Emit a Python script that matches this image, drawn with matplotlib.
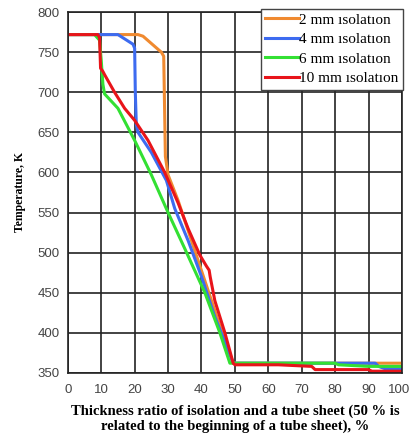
import matplotlib.pyplot as plt
import matplotlib.transforms as mtransforms

# 2 mm isolation
x_2mm = [0, 21, 22.5, 28, 28.7, 29.2, 30, 33, 37, 41, 45, 49.5, 50, 60, 80, 100]
t_2mm = [772, 772, 770, 750, 745, 620, 597, 565, 515, 465, 415, 362, 362, 362, 362, 362]

# 4 mm isolation
x_4mm = [0, 15, 16.5, 19.5, 20, 20.2, 20.5, 21, 25, 29.5, 32, 36, 40, 44, 48, 49.5, 60, 80, 92, 93, 95, 100]
t_4mm = [772, 772, 768, 760, 755, 700, 660, 650, 625, 590, 555, 515, 470, 420, 378, 362, 362, 362, 362, 358, 355, 355]

# 6 mm isolation
x_6mm = [0, 8, 9.5, 10, 10.5, 11, 15, 20, 25, 30, 35, 41, 45.5, 48.5, 60, 80, 81, 90, 100]
t_6mm = [772, 772, 765, 740, 710, 698, 680, 640, 597, 550, 505, 450, 400, 362, 362, 362, 360, 358, 358]

# 10 mm isolation
x_10mm = [0, 9, 9.5, 9.8, 10.5, 11, 14, 17, 20, 24, 29, 33, 36, 39.5, 41.5, 42.3, 42.6, 44, 47, 49.5, 50, 63, 73, 74, 90, 91, 100]
t_10mm = [772, 772, 768, 730, 726, 722, 700, 680, 665, 640, 600, 562, 530, 497, 483, 478, 470, 440, 400, 362, 360, 360, 358, 354, 354, 352, 352]

series = [
    (x_2mm, t_2mm, '#F08A30', '2 mm ısolatıon'),
    (x_4mm, t_4mm, '#3D6BF0', '4 mm ısolatıon'),
    (x_6mm, t_6mm, '#33E033', '6 mm ısolatıon'),
    (x_10mm, t_10mm, '#E8141A', '10 mm ısolatıon'),
]

fig = plt.figure(figsize=(4.11, 4.34), dpi=100)
ax = fig.add_axes([0.165, 0.141, 0.813, 0.831])

for xs, ts, color, label in series:
    ax.plot(xs, ts, color=color, lw=2.2, label=label)

ax.set_xlim(0, 100)
ax.set_ylim(350, 800)
ax.set_xticks(range(0, 101, 10))
ax.set_yticks(range(350, 801, 50))
ax.grid(True, color='#222222', lw=1.2)
ax.set_axisbelow(True)
for s in ax.spines.values():
    s.set_color('#222222')
    s.set_linewidth(1.2)
ax.tick_params(length=0, labelsize=9.5, colors='#444444', pad=6)
ax.tick_params(axis='x', pad=8)
for lbl in ax.get_xticklabels() + ax.get_yticklabels():
    lbl.set_family('Liberation Sans')
# keep the last "100" inside the picture
last = ax.get_xticklabels()[-1]
last.set_transform(last.get_transform() + mtransforms.ScaledTranslation(-3 / 100, 0, fig.dpi_scale_trans))

ax.set_xlabel('Thickness ratio of isolation and a tube sheet (50 % is\nrelated to the beginning of a tube sheet), %',
              family='Liberation Serif', fontweight='bold', fontsize=10.5, labelpad=6, linespacing=1.2)
ax.set_ylabel('Temperature, K', family='Liberation Serif', fontweight='bold', fontsize=8.5, labelpad=8)

leg = ax.legend(loc='upper right', bbox_to_anchor=(1.003, 1.01), prop={'family': 'Liberation Serif', 'size': 11},
                frameon=True, fancybox=False, edgecolor='#444444', framealpha=1,
                handlelength=2.2, handletextpad=0.0, borderpad=0.3, labelspacing=0.38, borderaxespad=0)
leg.get_frame().set_linewidth(1.0)

fig.savefig('out.png', dpi=100)
